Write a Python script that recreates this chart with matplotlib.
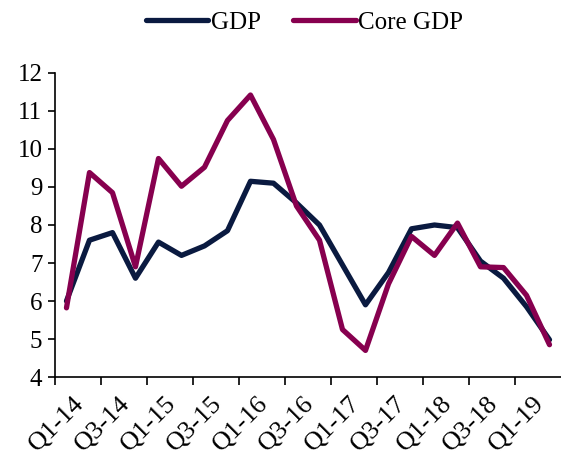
import matplotlib.pyplot as plt
import matplotlib.transforms as mtransforms
import numpy as np

# data
quarters = ["Q1-14", "Q2-14", "Q3-14", "Q4-14", "Q1-15", "Q2-15", "Q3-15", "Q4-15",
            "Q1-16", "Q2-16", "Q3-16", "Q4-16", "Q1-17", "Q2-17", "Q3-17", "Q4-17",
            "Q1-18", "Q2-18", "Q3-18", "Q4-18", "Q1-19", "Q2-19"]
gdp = [6.0, 7.6, 7.8, 6.6, 7.55, 7.2, 7.45, 7.85, 9.15, 9.1, 8.58, 8.0,
       6.95, 5.9, 6.75, 7.9, 8.0, 7.93, 7.05, 6.6, 5.85, 4.98]
core_gdp = [5.82, 9.38, 8.85, 6.9, 9.75, 9.02, 9.52, 10.75, 11.42, 10.25, 8.5, 7.6,
            5.25, 4.7, 6.45, 7.7, 7.2, 8.05, 6.9, 6.88, 6.15, 4.85]

plt.rcParams['font.family'] = ['Liberation Serif', 'DejaVu Serif']

fig = plt.figure(figsize=(5.61, 4.55), dpi=100)
ax = fig.add_axes([0.098, 0.1714, 0.902, 0.6682])

x = np.arange(len(quarters))
ax.plot(x, gdp, color='#0A1A40', lw=3.8, label='GDP', solid_capstyle='round')
ax.plot(x, core_gdp, color='#87004F', lw=3.8, label='Core GDP', solid_capstyle='round')

ax.set_xlim(-0.5, len(quarters) - 0.5)
ax.set_ylim(4, 12)
ax.set_yticks(range(4, 13))
ax.tick_params(axis='y', labelsize=18, length=5, width=1.2, direction='out', pad=4)

ax.set_xticks(x[::2])
ax.set_xticklabels(quarters[::2], rotation=45, ha='right', rotation_mode='anchor')
ax.set_xticks(np.arange(-0.5, len(quarters) - 1.5, 2), minor=True)
ax.tick_params(axis='x', which='major', length=0, labelsize=19, pad=11)
ax.tick_params(axis='x', which='minor', length=6, width=1.2, direction='out')

# nudge the rotated labels a little to the right
shift = mtransforms.ScaledTranslation(6 / 100, 0, fig.dpi_scale_trans)
for lbl in ax.get_xticklabels():
    lbl.set_transform(lbl.get_transform() + shift)

for s in ['top', 'right']:
    ax.spines[s].set_visible(False)
for s in ['left', 'bottom']:
    ax.spines[s].set_linewidth(1.2)

fig.legend(loc='center', bbox_to_anchor=(0.543, 0.95), ncol=2, frameon=False,
           fontsize=18, handlelength=2.5, handletextpad=0.1, columnspacing=1.3,
           borderaxespad=0)

fig.savefig('out.png', dpi=100)
